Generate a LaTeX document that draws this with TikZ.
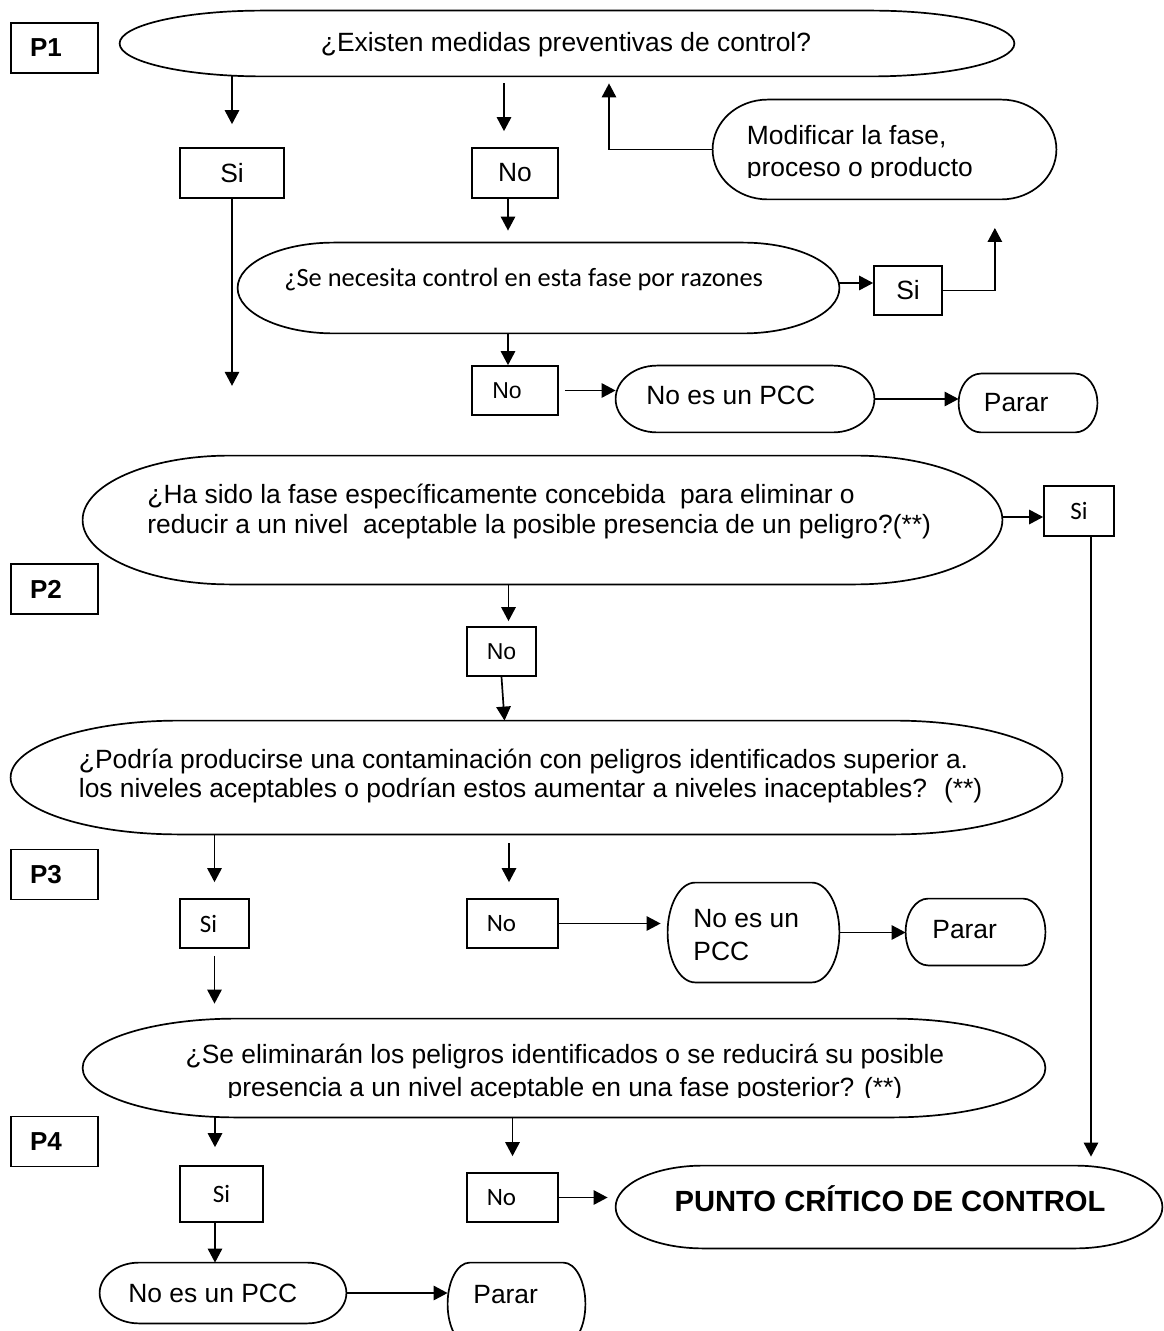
\documentclass[tikz,border=0pt]{standalone}
\usepackage{fontspec}
\setmainfont{Liberation Sans}
\newfontfamily\calibfont{Carlito}
\usetikzlibrary{arrows.meta,calc}

% terminator outline: flat top and bottom, elliptical ends
\newcommand\termline[1]{%
  \draw[outl] let \p1=(#1.north west), \p2=(#1.south east),
    \n1={0.16*(\x2-\x1)}, \n2={(\y1-\y2)/2} in
    (\x1+\n1,\y1) -- (\x2-\n1,\y1)
    arc[start angle=90, end angle=-90, x radius=\n1, y radius=\n2]
    -- (\x1+\n1,\y2)
    arc[start angle=270, end angle=90, x radius=\n1, y radius=\n2] -- cycle;}

\begin{document}
\begin{tikzpicture}[x=0.5pt,y=-0.5pt,
  outl/.style={line width=0.85pt},
  arr/.style={line width=0.85pt,-{Triangle[length=7pt,width=7.2pt]}},
  box/.style={draw,line width=0.85pt,inner sep=0pt,minimum height=24.5pt},
  term/.style={rectangle,draw=none,inner sep=0pt},
  ar/.style={font=\fontsize{13.2}{15}\selectfont},
  arsm/.style={font=\fontsize{11.5}{14}\selectfont},
  ca/.style={font=\calibfont\fontsize{12.5}{15}\selectfont},
  cabig/.style={font=\calibfont\fontsize{13.2}{15}\selectfont},
  pl/.style={box,font=\bfseries\fontsize{13}{15}\selectfont,minimum width=43.5pt,minimum height=25pt},
  txt/.style={inner sep=0pt,anchor=base west},
  ctxt/.style={inner sep=0pt,anchor=base},
  nudge/.style={execute at begin node={\hspace*{#1}}}
]
\fill[white] (0,0) rectangle (1163,1331);
\useasboundingbox (0,0) rectangle (1163,1331);

% step labels
\node[pl, nudge=-8.5pt] (p1) at (54.5,48) {P1};
\node[pl, nudge=-8.5pt] (p2) at (54.5,589) {P2};
\node[pl, nudge=-8.5pt] (p3) at (54.5,874.5) {P3};
\node[pl, nudge=-8.5pt] (p4) at (54.5,1141.5) {P4};

% rounded process shapes
\node[term, minimum width=447pt, minimum height=32.5pt] (q1) at (567,43.5) {};
\node[term, minimum width=171.5pt, minimum height=49.5pt] (mod) at (884.5,149.5) {};
\node[term, minimum width=300.5pt, minimum height=45pt] (q1b) at (538.5,288) {};
\node[term, minimum width=129pt, minimum height=33pt] (nopcc1) at (745,399) {};
\node[term, minimum width=69pt, minimum height=29pt] (parar1) at (1028,403) {};
\node[term, minimum width=459.5pt, minimum height=64pt] (q2) at (542.5,520) {};
\node[term, minimum width=525.5pt, minimum height=56.5pt] (q3) at (536.5,777.5) {};
\node[term, minimum width=85.5pt, minimum height=49.5pt] (nopcc3) at (753.5,932.5) {};
\node[term, minimum width=69.5pt, minimum height=33pt] (parar3) at (975.5,932) {};
\node[term, minimum width=481pt, minimum height=49pt] (q4) at (564,1068) {};
\node[term, minimum width=273pt, minimum height=41pt] (pcc) at (889,1207) {};
\node[term, minimum width=123pt, minimum height=30pt] (nopcc4) at (223,1293) {};
\node[term, minimum width=68.5pt, minimum height=41pt] (parar4) at (516.5,1304) {};

\foreach \s in {q1,mod,q1b,nopcc1,parar1,q2,q3,nopcc3,parar3,q4,pcc,nopcc4,parar4}
  {\termline{\s}}

% answer boxes
\node[box, ar, minimum width=52pt, minimum height=25pt] (si1) at (232,173) {Si};
\node[box, ar, minimum width=43pt, minimum height=25pt] (no1) at (515,173) {No};
\node[box, ar, minimum width=34pt] (si1b) at (908,290.5) {Si};
\node[box, arsm, minimum width=43pt, nudge=-8pt] (no1b) at (515,390.5) {No};
\node[box, ca, minimum width=35pt, minimum height=25pt] (si2) at (1079,511) {Si};
\node[box, arsm, minimum width=34.5pt] (no2) at (501.5,651.5) {No};
\node[box, ca, minimum width=34.5pt, nudge=-6pt] (si3) at (214.5,923.5) {Si};
\node[box, ca, minimum width=45.5pt, nudge=-11pt] (no3) at (512.5,923.5) {No};
\node[box, ca, minimum width=41.5pt, minimum height=28pt] (si4) at (221.5,1194) {Si};
\node[box, ca, minimum width=45.5pt, nudge=-11pt] (no4) at (512.5,1197.5) {No};

% texts of the rounded shapes
\node[ctxt, ar] (tq1) at (566,52) {¿Existen medidas preventivas de control?};
\node[txt, ar] (tmod1) at (746.5,145) {Modificar la fase,};
\begin{scope}
  \clip (0,0) rectangle (1163,178);
  \node[txt, ar] (tmod2) at (746.5,177) {proceso o producto};
\end{scope}
\node[txt, cabig] (tq1b) at (284,287) {¿Se necesita control en esta fase por razones};
\node[txt, ar] (tno1) at (646,405) {No es un PCC};
\node[txt, ar] (tpar1) at (983.5,412) {Parar};
\node[txt, ar] (tq2a) at (147,503) {¿Ha sido la fase específicamente concebida~ para eliminar o};
\node[txt, ar] (tq2b) at (147,533) {reducir a un nivel~ aceptable la posible presencia de un peligro?(**)};
\node[txt, ar] (tq3a) at (78.5,768) {¿Podría producirse una contaminación con peligros identificados superior a.};
\node[txt, ar] (tq3b) at (78.5,797) {los niveles aceptables o podrían estos aumentar a niveles inaceptables?~ (**)};
\node[txt, ar] (tno3a) at (693,927) {No es un};
\node[txt, ar] (tno3b) at (693,960) {PCC};
\node[txt, ar] (tpar3) at (932,938) {Parar};
\node[ctxt, ar] (tq4a) at (565,1063) {¿Se eliminarán los peligros identificados o se reducirá su posible};
\begin{scope}
  \clip (0,0) rectangle (1163,1097);
  \node[ctxt, ar] (tq4b) at (565,1096) {presencia a un nivel aceptable en una fase posterior? (**)};
\end{scope}
\node[ctxt, font=\bfseries\fontsize{14.6}{17}\selectfont] (tpcc) at (890,1211) {PUNTO CRÍTICO DE CONTROL};
\node[txt, ar] (tno4) at (128,1302) {No es un PCC};
\node[txt, ar] (tpar4) at (473,1303) {Parar};

% connectors, P1
\draw[arr, shorten >=11.5pt] (si1.north |- q1.south) -- (si1.north);
\coordinate (c2) at ($(no1.north)+(-11,0)$);
\draw[arr, shorten <=3.5pt, shorten >=8pt] (c2 |- q1.south) -- (c2);
\coordinate (siend) at ($(si1.south)+(0,187)$);
\draw[arr] (si1.south) -- (siend);
\coordinate (c4) at ($(no1.south)+(-7,0)$);
\draw[arr, shorten >=6pt] (c4) -- (c4 |- q1b.north);
\coordinate (c5) at ($(q1.south)+(42,0)$);
\draw[arr, shorten >=3.5pt] (mod.west) -| (c5);
\coordinate (c6) at ($(q1b.east)+(0,-5)$);
\draw[arr] (c6) -- (c6 -| si1b.west);
\coordinate (siup) at ($(si1b.east)+(52,-62.5)$);
\draw[arr] (si1b.east) -| (siup);
\coordinate (c8) at ($(no1b.north)+(-7,0)$);
\draw[arr] (c8 |- q1b.south) -- (c8);
\draw[arr, shorten <=3pt] (no1b.east) -- (no1b.east -| nopcc1.west);
\draw[arr] (nopcc1.east) -- (nopcc1.east -| parar1.west);

% connectors, P2
\coordinate (c11) at ($(q2.east)+(0,-3)$);
\draw[arr] (c11) -- (c11 -| si2.west);
\coordinate (c12) at ($(si2.south)+(12,0)$);
\draw[arr, shorten >=4.5pt] (c12) -- (c12 |- pcc.north);
\coordinate (c13) at ($(no2.north)+(7,0)$);
\draw[arr, shorten >=2.5pt] (c13 |- q2.south) -- (c13);
\coordinate (c14) at ($(no2.south)+(3,0)$);
\draw[arr] (no2.south) -- (c14 |- q3.north);

% connectors, P3
\draw[arr, shorten >=8pt] (si3.north |- q3.south) -- (si3.north);
\coordinate (c16) at ($(no3.north)+(-3.5,0)$);
\draw[arr, shorten <=4.5pt, shorten >=8pt] (c16 |- q3.south) -- (c16);
\draw[arr, shorten >=3.5pt] (no3.east) -- (no3.east -| nopcc3.west);
\draw[arr] (nopcc3.east) -- (nopcc3.east -| parar3.west);
\draw[arr, shorten <=3.5pt, shorten >=7.5pt] (si3.south) -- (si3.south |- q4.north);

% connectors, P4
\coordinate (c20) at ($(si4.north)+(-6.5,0)$);
\draw[arr, shorten >=9pt] (c20 |- q4.south) -- (c20);
\draw[arr, shorten >=8pt] (no4.north |- q4.south) -- (no4.north);
\draw[arr, shorten >=4pt] (no4.east) -- (no4.east -| pcc.west);
\coordinate (c23) at ($(si4.south)+(-6.5,0)$);
\draw[arr] (c23) -- (c23 |- nopcc4.north);
\draw[arr] (nopcc4.east) -- (nopcc4.east -| parar4.west);
\end{tikzpicture}
\end{document}
